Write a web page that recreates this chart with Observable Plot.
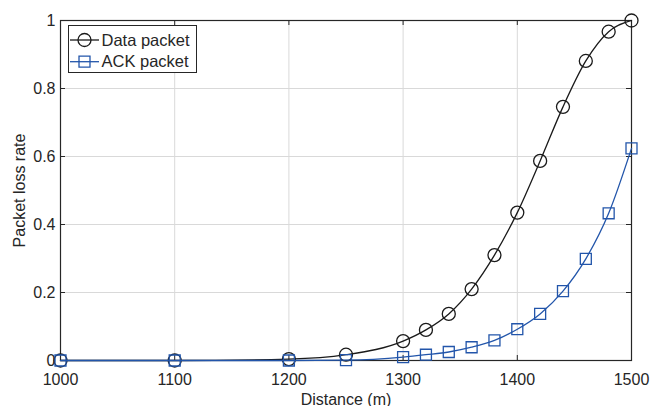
<!DOCTYPE html>
<html><head><meta charset="utf-8">
<script src="https://cdn.jsdelivr.net/npm/d3@7"></script>
<script src="https://cdn.jsdelivr.net/npm/@observablehq/plot@0.6"></script>
<style>body{margin:0;background:#fff} #chart{position:relative;width:661px;height:406px}</style>
</head><body><div id="chart"></div>
<script>
const distance = [1000,1100,1200,1250,1300,1320,1340,1360,1380,1400,1420,1440,1460,1480,1500];
const dataPacket = [0,0,0.004,0.017,0.057,0.09,0.137,0.21,0.31,0.435,0.587,0.746,0.881,0.967,1.0];
const ackPacket = [0,0,0,0.001,0.01,0.017,0.025,0.039,0.059,0.092,0.137,0.204,0.299,0.433,0.624];
const xTicks = [1000,1100,1200,1300,1400,1500];
const xTickLabels = ["1000","1100","1200","1300","1400","1500"];
const yTicks = [0,0.2,0.4,0.6,0.8,1];
const yTickLabels = ["0","0.2","0.4","0.6","0.8","1"];
const seriesNames = ["Data packet","ACK packet"];
const seriesColors = ["#1a1a1a","#2255aa"];
const seriesSymbols = ["circle","square"];
const xLabel = "Distance (m)";
const yLabel = "Packet loss rate";

const W = 661, H = 406, mt = 20, mb = 46, ml = 60, mr = 30;
const iw = W - ml - mr, ih = H - mt - mb;
const axisColor = "#262626";
const font = "'Liberation Sans', Arial, Helvetica, sans-serif";

const series = [dataPacket, ackPacket];
const seriesMarks = series.flatMap((vals, k) => [
  Plot.line(distance, {x: d => d, y: (d, i) => vals[i], curve: "monotone-x", stroke: seriesColors[k], strokeWidth: 1.3}),
  Plot.dot(distance, {x: d => d, y: (d, i) => vals[i], symbol: seriesSymbols[k], r: k === 0 ? 6.5 : 6.2, stroke: seriesColors[k], fill: "none", strokeWidth: 1.3})
]);

const svg = Plot.plot({
  width: W, height: H, marginTop: mt, marginBottom: mb, marginLeft: ml, marginRight: mr,
  x: {domain: [1000, 1500]},
  y: {domain: [0, 1]},
  style: {fontFamily: font, fontSize: "16px", color: axisColor, background: "#fff"},
  marks: [
    Plot.gridX(xTicks, {stroke: "#d9d9d9", strokeOpacity: 1, strokeWidth: 1}),
    Plot.gridY(yTicks, {stroke: "#d9d9d9", strokeOpacity: 1, strokeWidth: 1}),
    Plot.axisX(xTicks, {tickSize: 0, tickPadding: 13, fontSize: 16, tickFormat: d => xTickLabels[xTicks.indexOf(d)], label: xLabel, labelAnchor: "center", labelOffset: 44, labelArrow: "none"}),
    Plot.axisY(yTicks, {tickSize: 0, tickPadding: 5, fontSize: 16, tickFormat: d => yTickLabels[yTicks.indexOf(d)], label: yLabel, labelAnchor: "center", labelOffset: 47, labelArrow: "none"}),
    Plot.ruleX(xTicks, {x: d => d, insetTop: ih - 5, stroke: axisColor}),
    Plot.ruleX(xTicks, {x: d => d, insetBottom: ih - 5, stroke: axisColor}),
    Plot.ruleY(yTicks, {y: d => d, insetRight: iw - 5, stroke: axisColor}),
    Plot.ruleY(yTicks, {y: d => d, insetLeft: iw - 5, stroke: axisColor}),
    Plot.frame({stroke: axisColor, strokeWidth: 1.2}),
    ...seriesMarks
  ]
});

// legend box
const g = d3.select(svg).append("g").attr("font-family", font).attr("font-size", 16.5).attr("text-anchor", "start");
g.append("rect").attr("x", 68.5).attr("y", 25.5).attr("width", 128).attr("height", 47)
  .attr("fill", "#fff").attr("stroke", axisColor).attr("stroke-width", 1);
seriesNames.forEach((name, k) => {
  const cy = 40 + k * 21.7;
  g.append("line").attr("x1", 70).attr("x2", 99).attr("y1", cy).attr("y2", cy)
    .attr("stroke", seriesColors[k]).attr("stroke-width", 1.3);
  g.append("path").attr("transform", `translate(84.5,${cy})`)
    .attr("d", d3.symbol(k === 0 ? d3.symbolCircle : d3.symbolSquare, Math.PI * (k === 0 ? 6.5 : 6.2) ** 2)())
    .attr("fill", "none").attr("stroke", seriesColors[k]).attr("stroke-width", 1.3);
  g.append("text").attr("x", 101.5).attr("y", cy).attr("dy", "0.35em").attr("text-anchor", "start").attr("fill", axisColor).text(name);
});

document.getElementById("chart").appendChild(svg);
</script>
</body></html>
